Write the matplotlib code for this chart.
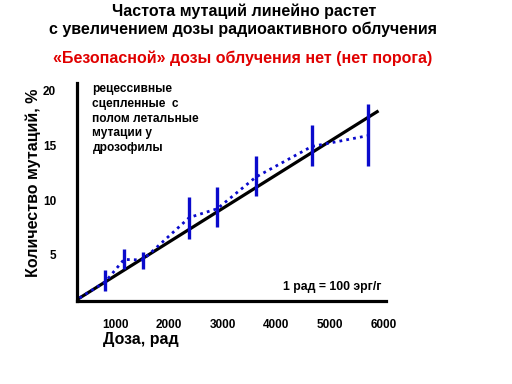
import matplotlib
matplotlib.use("Agg")
import matplotlib.pyplot as plt

plt.rcParams['font.family'] = ['Liberation Sans', 'DejaVu Sans']

# dose values (rad) and mutation frequency (%)
dose = [810, 1160, 1510, 2380, 2900, 3620, 4660, 5710]
mut_mean = [2.5, 4.55, 4.5, 8.4, 9.2, 12.1, 14.9, 15.9]
mut_low = [1.7, 3.65, 3.65, 6.45, 7.5, 10.35, 13.1, 13.1]
mut_high = [3.6, 5.5, 5.25, 10.25, 11.15, 14.0, 16.85, 18.8]

fit_dose = [0, 5885]
fit_mut = [0, 18.1]

x_ticks = [1000, 2000, 3000, 4000, 5000, 6000]
y_ticks = [5, 10, 15, 20]

blue = '#0A0ACC'

fig = plt.figure(figsize=(5.12, 3.84), dpi=100)
ax = fig.add_axes([0.1504, 0.217, 0.6035, 0.566])

# linear fit
ax.plot(fit_dose, fit_mut, color='black', lw=2.3, zorder=2)
# observed means, dotted
ax.plot([0] + dose, [0] + mut_mean, color=blue, lw=2.0,
        linestyle=(0, (1, 1.5)), zorder=3)
# error bars
ax.vlines(dose, mut_low, mut_high, color=blue, lw=2.4, zorder=4)

ax.set_xlim(282, 6050)
ax.set_ylim(0.77, 20.7)
ax.set_xticks(x_ticks)
ax.set_yticks(y_ticks)
ax.tick_params(length=0, labelsize=8.5)
ax.tick_params(axis='x', pad=13)
ax.tick_params(axis='y', pad=15)
for lab in ax.get_xticklabels() + ax.get_yticklabels():
    lab.set_fontweight('bold')

for side in ['top', 'right']:
    ax.spines[side].set_visible(False)
for side in ['left', 'bottom']:
    ax.spines[side].set_linewidth(2.3)

ax.set_xlabel('Доза, рад', fontsize=11.5, fontweight='bold')
ax.xaxis.set_label_coords(0.085, -0.145)
ax.xaxis.label.set_ha('left')
ax.set_ylabel('Количество мутаций, %', fontsize=11.5, fontweight='bold')
ax.yaxis.set_label_coords(-0.118, 0.543)

ax.text(0.05, 1.0, 'рецессивные\nсцепленные  с\nполом летальные\nмутации у\nдрозофилы',
        transform=ax.transAxes, fontsize=8.6, fontweight='bold',
        va='top', ha='left', linespacing=1.3)
ax.text(0.985, 0.063, '1 рад = 100 эрг/г', transform=ax.transAxes,
        fontsize=8.8, fontweight='bold', ha='right', va='center')

fig.text(0.476, 1 - 11 / 384, 'Частота мутаций линейно растет',
         fontsize=11.5, fontweight='bold', ha='center', va='center')
fig.text(0.474, 1 - 29 / 384, 'с увеличением дозы радиоактивного облучения',
         fontsize=11.5, fontweight='bold', ha='center', va='center')
fig.text(0.474, 1 - 58 / 384, '«Безопасной» дозы облучения нет (нет порога)',
         fontsize=11.5, fontweight='bold', color='#E00000',
         ha='center', va='center')

fig.savefig('out.png', dpi=100)
